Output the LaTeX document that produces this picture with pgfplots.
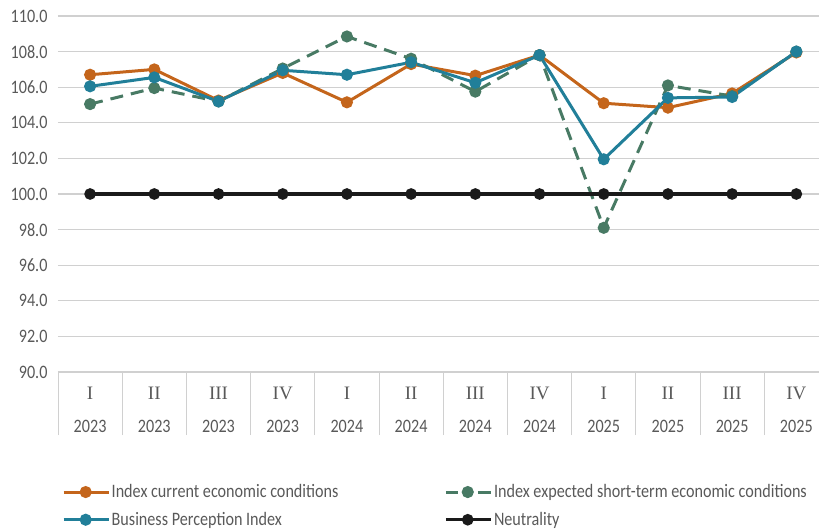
\documentclass[border=0pt]{standalone}
\usepackage{pgfplots}
\pgfplotsset{compat=1.18}
\usetikzlibrary{calc}
\usepackage{fontspec}
\setmainfont{Carlito}[FakeStretch=0.85]
\newfontfamily\rn{Liberation Serif}
\definecolor{CurOrange}{RGB}{196,101,27}
\definecolor{BpiBlue}  {RGB}{33,127,153}
\definecolor{ExpGreen} {RGB}{72,122,100}
\definecolor{NeuBlack} {RGB}{26,26,26}
\definecolor{GridGray} {RGB}{208,208,208}
\definecolor{TickGray} {RGB}{89,89,89}

\pgfplotsset{
    dashlegend/.style={
        legend image code/.code={
            \draw[##1, solid, mark=none] (0pt,0pt) -- (12pt,0pt);
            \draw[##1, solid, mark=none] (18pt,0pt) -- (26pt,0pt);
            \draw[##1, solid, mark=none] (32pt,0pt) -- (45pt,0pt);
            \draw[##1, only marks] plot coordinates {(22pt,0pt)};
        }
    }
}

\begin{document}
\begin{tikzpicture}
\begin{axis}[
    name=ax,
    scale only axis,
    width=761pt,
    height=356pt,
    xmin=-0.5, xmax=11.353,
    ymin=90, ymax=110,
    ytick={90,92,...,110},
    xtick={0,...,11},
    xticklabels={
        {{\rn I}\\2023},{{\rn II}\\2023},{{\rn III}\\2023},{{\rn IV}\\2023},
        {{\rn I}\\2024},{{\rn II}\\2024},{{\rn III}\\2024},{{\rn IV}\\2024},
        {{\rn I}\\2025},{{\rn II}\\2025},{{\rn III}\\2025},{{\rn IV}\\2025}},
    minor xtick={-0.5,0.5,...,10.5},
    tick pos=left,
    tick align=outside,
    major tick length=0pt,
    minor tick length=63pt,
    minor tick style={draw=GridGray, line width=0.8pt},
    ymajorgrids,
    major grid style={draw=GridGray, line width=1.2pt},
    axis line style={draw=none},
    y tick label style={font=\fontsize{19}{22}\selectfont, text=TickGray, xshift=-7pt},
    x tick label style={font=\fontsize{19}{33}\selectfont, text=TickGray, align=center, yshift=-12pt},
    yticklabel style={/pgf/number format/.cd, fixed, fixed zerofill, precision=1, assume math mode=true},
    legend columns=2,
    legend cell align=left,
    legend style={
        at={(0,0)}, anchor=north west,
        xshift=1pt, yshift=-109pt,
        draw=none, fill=none,
        font=\fontsize{19}{22}\selectfont,
        text=TickGray,
        row sep=10pt,
        nodes={inner sep=1.5pt},
        /tikz/column 2/.style={column sep=104pt},
    },
    legend image code/.code={
        \draw[mark repeat=2,mark phase=2,#1] plot coordinates {(0pt,0pt) (22pt,0pt) (45pt,0pt)};
    },
]

\addplot[CurOrange, line width=3pt, mark=*, mark size=4.5pt] coordinates {
    (0,106.7) (1,107.0) (2,105.25) (3,106.8) (4,105.15) (5,107.3)
    (6,106.65) (7,107.8) (8,105.1) (9,104.85) (10,105.65) (11,107.95)
};
\addlegendentry{Index current economic conditions}

\addplot[ExpGreen, line width=3pt, dash pattern=on 13pt off 8pt, mark=*, mark size=4.5pt,
    mark options={solid}, dashlegend] coordinates {
    (0,105.05) (1,105.95) (2,105.2) (3,107.05) (4,108.85) (5,107.6)
    (6,105.75) (7,107.8) (8,98.1) (9,106.1) (10,105.5) (11,108.0)
};
\addlegendentry{Index expected short-term economic conditions}

\addplot[BpiBlue, line width=3pt, mark=*, mark size=4.5pt] coordinates {
    (0,106.05) (1,106.55) (2,105.2) (3,106.95) (4,106.7) (5,107.4)
    (6,106.25) (7,107.8) (8,101.95) (9,105.4) (10,105.45) (11,108.0)
};
\addlegendentry{Business Perception Index}

\addplot[NeuBlack, line width=3.5pt, mark=*, mark size=4pt] coordinates {
    (0,100) (1,100) (2,100) (3,100) (4,100) (5,100)
    (6,100) (7,100) (8,100) (9,100) (10,100) (11,100)
};
\addlegendentry{Neutrality}

\end{axis}
\pgfresetboundingbox
\useasboundingbox ($(ax.south west)+(-58pt,-157pt)$) rectangle ($(ax.north east)+(0pt,16pt)$);
\end{tikzpicture}
\end{document}
